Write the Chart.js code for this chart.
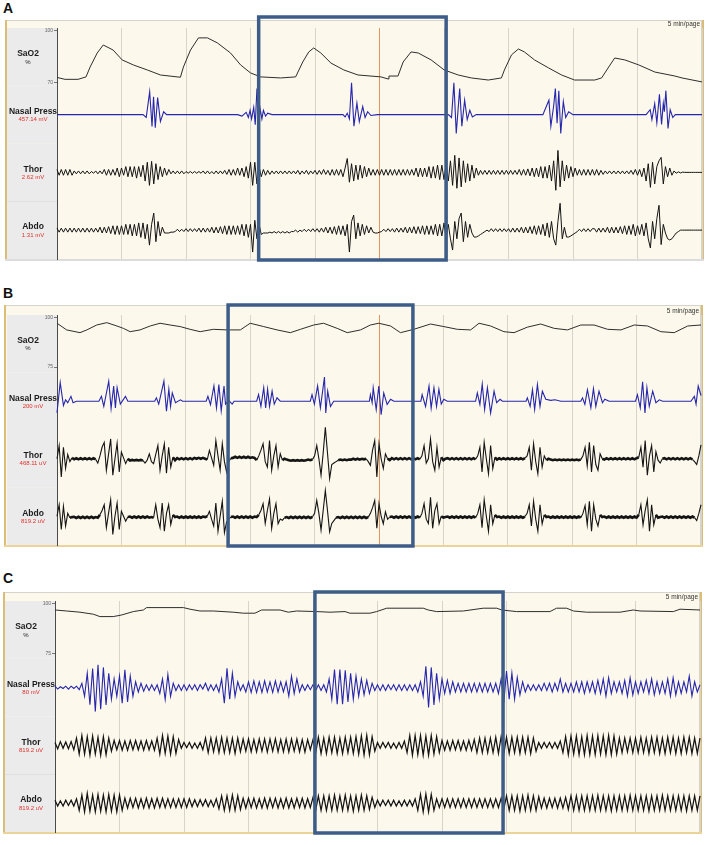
<!DOCTYPE html>
<html>
<head>
<meta charset="utf-8">
<title>SaO2, nasal pressure and effort traces</title>
<script src="https://cdn.jsdelivr.net/npm/chart.js@4/dist/chart.umd.min.js"></script>
<style>
    body { margin: 0; background: #fff; font-family: Arial, "Liberation Sans", sans-serif; }
    #figure { position: relative; width: 708px; height: 845px; overflow: hidden; }
    .letter { position: absolute; left: 3px; font-weight: bold; font-size: 14px; line-height: 16px; color: #111; }
    .panel { position: absolute; left: 0; width: 708px; }
</style>
</head>
<body>
<div id="figure">
    <div class="letter" style="top:0px">A</div>
    <div class="letter" style="top:285px">B</div>
    <div class="letter" style="top:570px">C</div>
    <div class="panel" id="panel-a"><canvas id="chart-a"></canvas></div>
    <div class="panel" id="panel-b"><canvas id="chart-b"></canvas></div>
    <div class="panel" id="panel-c"><canvas id="chart-c"></canvas></div>
</div>
<script>
// one page = 300 s, grid every 30 s
const PAGE_SECONDS = 300
const GRID_SECONDS = 30
const AB_STEP = 1      // seconds between samples, panels A and B
const C_STEP = 1.25    // seconds between samples, panel C
const PAGE_NOTE = "5 min/page"

const channelNames = ["SaO2", "Nasal Press", "Thor", "Abdo"]
const aUnits = ["%", "457.14 mV", "2.62 mV", "1.31 mV"]
const bUnits = ["%", "200 mV", "468.11 uV", "819.2 uV"]
const cUnits = ["%", "80 mV", "819.2 uV", "819.2 uV"]

const aSaO2Ticks = [70, 100]
const bSaO2Ticks = [75, 100]
const cSaO2Ticks = [75, 100]

// SaO2 [seconds, %]
const aSaO2 = [
    [0, 73.2], [3.7, 72.1], [9.8, 72.1], [13.5, 73.5], [15.4, 79.2], [18.7, 87.3], [21.5, 91.9], [26.1, 89],
    [30.3, 83.3], [35.5, 80.4], [42, 77.5], [48.1, 74.6], [57.4, 73.3], [58.8, 79.2], [62.1, 89], [65.8, 96],
    [70, 96], [74.6, 93.1], [80.7, 87.3], [85.4, 80.4], [90, 75.8], [94.7, 73.5], [104, 72.9], [111, 73.5],
    [114.3, 82.1], [117.1, 87.9], [119.4, 90.2], [122.7, 87.3], [127.4, 81.5], [133.4, 77.5], [140, 74.6],
    [150.7, 73.5], [154, 72.3], [154.4, 74], [158.6, 74], [161, 82.1], [164.7, 87.9], [168, 87.3], [174, 83.3],
    [180.1, 77.5], [186.6, 74.6], [192.7, 72.9], [200.6, 71.7], [206.7, 72.9], [208.1, 77.5], [211.4, 86.2],
    [214.6, 89.6], [217.4, 87.9], [222.1, 83.3], [228.6, 78.7], [234.7, 74.6], [240.7, 71.7], [250.1, 71.7],
    [253.3, 72.9], [256.6, 79.2], [259.4, 84.4], [264.1, 83.3], [270.6, 80.4], [278.1, 76.3], [287.4, 74],
    [290.7, 72.9], [300, 70.6],
]
const bSaO2 = [
    [0, 97.3], [4.5, 93.9], [10.7, 92.5], [13.9, 93.9], [18.5, 96.4], [23.2, 97.6], [27.9, 95.9], [30.9, 94.7],
    [34.1, 93], [38.7, 93.9], [43.4, 95.9], [48, 97.3], [52.7, 96.4], [57.4, 95.6], [62, 94.2], [66.7, 93],
    [72.8, 94.2], [79.2, 93.9], [85.4, 93.9], [90, 97.3], [96.3, 95.6], [102.5, 93.9], [108.7, 92.5],
    [113.4, 94.2], [119.6, 96.4], [124.2, 97.3], [130.5, 94.7], [135.2, 92.5], [141.4, 93.9], [146, 96.4],
    [149.9, 97.3], [155.4, 95.9], [160, 92.5], [166.2, 94.2], [174, 96.9], [180.2, 95.6], [186.5, 94.2],
    [192.7, 93.9], [196.6, 97.3], [202, 95.9], [208.2, 93], [212.9, 92.5], [219.1, 95.3], [225.3, 96.9],
    [231.6, 94.7], [237.8, 93.9], [244, 96.4], [250.2, 96.4], [256.5, 94.2], [262.7, 93.9], [268.9, 96.4],
    [275.1, 95.9], [281.3, 93], [287.5, 92.5], [293.8, 95.9], [300, 96.4],
]
const cSaO2 = [
    [0, 97], [5.4, 96.5], [11.6, 95.9], [17.8, 94.9], [20.9, 93.7], [27.1, 93.7], [31, 94.5], [36.4, 96.2],
    [41.1, 97], [42.6, 98.2], [59.7, 98.2], [62.8, 97.4], [67.4, 96.5], [73.6, 96.5], [82.9, 95.9], [87.6, 95.4],
    [93, 95.4], [96.1, 97], [104.7, 97], [108.5, 95.9], [112.4, 96.5], [121.7, 96.2], [127.9, 95.9],
    [134.9, 96.2], [137.2, 95.4], [146.5, 95.4], [149.6, 96.2], [154.3, 97.9], [171.3, 97.9], [173.6, 97],
    [177.5, 96.2], [189.9, 96.5], [199.2, 97.9], [205.4, 97.9], [207.8, 97], [214.7, 96.2], [230.2, 96.2],
    [233.3, 97.9], [238, 97.9], [241.1, 96.5], [247.3, 95.9], [262.8, 95.9], [269, 97], [272.1, 96.5],
    [287.6, 96.2], [290.7, 97.4], [300, 97],
]

// nasal pressure, flat between bursts [seconds, value]
const aNasal = [
    [0, 0], [40, 0], [41.5, -1], [43.1, 7.9], [44.2, -4.1], [44.9, 6.2], [45.7, -4.5], [46.8, 5.9], [48.1, -2.4],
    [49.6, 1], [51, 0],
    [84, 0], [86, -0.5], [88, 0.8], [89, -1], [89.8, 1.5], [90.5, -1.5], [91.5, 2.5], [92.2, -3.5], [93, 9],
    [93.8, -3.5], [94.5, 2], [95.3, -1.5], [96, 1.5], [97, -0.5], [98, 0.5], [100, 0],
    [133, 0], [134, -0.8], [135, 0.5], [136, -1.5], [137, 11], [138.1, -4], [139.5, 4], [140.6, -2.4],
    [142.2, 2.8], [143.3, -1], [144.5, 1], [146, -0.3], [149, 0],
    [182, 0], [183.5, -1], [184.6, 11], [185.7, -6.5], [187.3, 9], [188.3, -4], [189.6, 5], [190.8, -1.7],
    [192, 1.5], [193.2, -0.8], [195, 0],
    [226, 0], [228.8, 5], [229.7, -4], [231, 3], [231.8, 9], [232.6, -3], [233.4, 8.3], [234.3, -6.5],
    [235.5, 4.5], [236.6, -1], [238, 1], [240, 0],
    [274, 0], [275.9, 1.7], [276.7, -1.7], [278, 3.8], [279, -2.8], [280.2, 7], [281.2, -3.4], [282, 4],
    [282.5, 1], [283.2, 8.3], [284.2, -4.8], [285.2, 1.7], [286.4, -1], [287.6, 0], [300, 0],
]
const bNasal = [
    [0, -4], [1.5, 6.5], [3, -1.5], [4, 0.5], [5, -0.5], [6.5, 1.7], [7.5, -0.5], [9, 0],
    [19.5, 0], [20.7, 1.7], [21.8, -1.8], [24.1, 7], [25.2, -2.5], [26.4, 5.3], [27.2, -2.3], [28, 4.7],
    [29.5, -1], [31.9, 1.7], [33, 0],
    [45.5, 0], [46.3, 1.2], [47.4, -1], [49.8, 7], [51, -3.5], [52.1, 4.2], [52.9, -1.8], [53.7, 2.9],
    [55.2, -0.5], [57.5, 0.5], [58.5, 0],
    [69.5, 0], [70.3, 1.7], [71.5, -1.2], [73.1, 5.3], [74.3, -2.3], [75.4, 5.8], [76.5, -3.3], [77.8, 5.3],
    [78.5, -1], [80, 0.3], [81.6, -1], [82.5, 0],
    [93, 0], [93.9, 2.3], [95, -1.8], [96.3, 4.7], [97.2, -2.3], [98.1, 4.2], [99, -1.8], [100.2, 3.5],
    [101.2, -1], [102.5, 1.2], [104, 0],
    [118, 0], [118.8, 2.3], [119.9, -1], [121.4, 5.3], [122.7, -2.3], [124.6, 8.4], [125.2, -4.1],
    [126.1, 3.5], [127.4, -1.8], [128.9, 0],
    [145.5, 0], [146, 2.3], [146.8, -0.5], [147.3, 4.7], [148.7, -2.9], [149.9, 5.3], [151, -4.7],
    [152.2, 2.9], [153.8, -1.1], [155.4, 0.7], [156.9, 0],
    [169.5, 0], [170.1, 2.3], [171.7, -1.8], [173.3, 5.3], [174.3, -2.4], [175.6, 4.7], [176.8, -1.8],
    [177.9, 4.2], [179, -1], [180.2, 0.7], [181.8, 0],
    [195, 0], [195.8, 2.9], [197, -1.1], [198.1, 6], [199.2, -2.9], [200.5, 4.7], [202, -4.1], [203.6, 3.5],
    [204.8, -0.5], [206.4, 0.7], [207.5, 0],
    [218.5, 0], [219.1, 1.2], [220.4, -1.8], [221.5, 4], [222.5, -2.9], [223.8, 5.8], [225, -1.8],
    [226.1, 3.5], [227.7, 0.7], [230, 0.3], [232, 0.5], [234.7, 0],
    [244, 0], [244.8, 1.2], [245.9, -1.1], [247.1, 4], [248.7, -2.3], [249.9, 4.4], [251, -1.8], [252.5, 3.5],
    [254.1, -0.5], [255.2, 0.7], [257.2, 0],
    [269.5, 0], [270.4, 2.3], [271.7, -2.3], [272.8, 6.8], [273.9, -4.1], [274.8, 4.7], [275.9, -1.8],
    [277.5, 3.5], [279, -0.5], [280.6, 0.5], [282.1, 0],
    [295.3, 0], [296.9, 1.7], [297.7, -1], [298.7, 5.3], [300, 2],
]

// effort traces, panels A and B, one sample every AB_STEP seconds (0..300)
const aThor = [
    1, -1, 1, -1, 1, -1, 1, -1, 0.5, -0.5,
    0.5, -0.5, 0.5, -0.5, 0.5, -0.5, 0.3, -0.3, 0.5, -0.5,
    0.5, -0.5, 1, -1, 1, -1, 1, -1, 1.5, -1.5,
    1.5, -1, 2, -1.5, 2, -1.5, 2, -2, 2, -1.5,
    2.5, -3, 3.5, -4.5, 3.8, -4, 3, -2.5, 2, -1.5,
    1.5, -1, 1, -0.5, 0.5, -0.5, 0.5, -0.5, 0.5, -0.5,
    0.3, -0.3, 0.3, -0.3, 0.3, -0.3, 0.3, -0.3, 0.5, -0.5,
    0.5, -0.5, 0.3, -0.5, 0.5, -0.5, 0.5, -0.5, 0.7, -0.7,
    1, -1, 1, -1, 1.5, -1, 1.5, -1.5, 2, -2,
    3.5, -4.5, 3.5, -4, 2, -1.5, 1, -1, 0.7, -0.7,
    0.5, -0.5, 0.5, -0.5, 0.5, -0.5, 0.5, -0.5, 0.5, -0.5,
    0.5, -0.5, 0.7, -0.7, 0.5, -0.5, 0.7, -0.7, 0.5, -0.5,
    0.7, -0.7, 0.7, -0.7, 1, -0.7, 0.7, -1, 1, -1,
    1, -1, 1, -1.5, 1.5, 4.8, -3.4, 3, -3, 2.5,
    -2.5, 2.5, -2, 2, -1.5, 1.5, -1, 1, -1, 1,
    -1, 1, -1, 1, -1, 1, -1, 1, -1, 1,
    -1, 1, -1, 1, -1, 1, -1, 1.5, -1.5, 1.5,
    -1.5, 1.5, -1.5, 2, -2, 2, -2, 2.5, -2.5, 2.5,
    -2.5, 3, -3, 4, -4.5, 5.9, -5.5, 5, -5, 4,
    -3.5, 3, -3, 2.5, -2, 1.5, -1, 0.7, -0.7, 0.7,
    -0.7, 0.7, -0.7, 0.7, -0.7, 0.7, -0.7, 0.7, -0.7, 0.7,
    -0.7, 0.7, -0.7, 0.7, -0.7, 1, -1, 1, -1, 1.2,
    -1.2, 1.5, -1.5, 1.5, -1.5, 2, -2, 2, -2, 2.5,
    -3, 4, -6.2, 7.6, -5, 4, -3, 2.5, -2, 2,
    -1.5, 1.5, -1, 1, -1, 1, -1, 1, -1, 1,
    -1, 1, -1, 0.7, -0.7, 0.5, -0.5, 0.5, -0.5, 0.5,
    -0.5, 0.5, -0.5, 0.5, -0.5, 0.5, -0.5, 0.7, -0.7, 1,
    -1, 1, -1.5, 1.5, -3, 3, -5.2, 3.5, -4, 2,
    4, 5.2, -4, 2, -1.5, 1.5, -1, 0.5, -0.3, 0.2,
    -0.2, 0.1, 0, 0, 0, 0, 0, 0, 0, 0, 0,
]
const aAbdo = [
    0.7, -0.7, 0.7, -0.7, 0.7, -0.7, 0.7, -0.7, 0.7, -0.7,
    0.7, -0.7, 0.7, -0.7, 0.7, -0.7, 0.7, -0.7, 0.7, -0.7,
    1, -1, 1, -1, 1.2, -1.2, 1.5, -1.5, 1.5, -1.5,
    1.5, -1.5, 2, -1.5, 2, -2, 2, -2, 2.5, -2.5,
    2.5, -3, 2, -5.2, 2, 5.9, -4, 3, -2, 1,
    -1, -1, -1, -0.7, -0.7, -0.5, 0.3, -0.5, 0.3, -0.5,
    0.5, -0.5, 0.5, -0.5, 0.5, -0.5, 0.7, -0.7, 0.7, -0.7,
    0.7, -0.7, 1, -1, 1, -1, 1.2, -1.2, 1.5, -1.5,
    1.5, -1.5, 1.5, -1.5, 1.5, -1.5, 2, -2, 2, -2.5,
    2, -7.6, 3.4, -3, 2, -1.5, -1, -1, -1, -0.7,
    -1, -0.5, -1, -0.5, -1, -0.5, -1, -0.5, -1, -0.5,
    -0.5, 0, -0.7, 0, -0.5, 0.3, -0.5, 0.3, -0.5, 0.5,
    -0.5, 0.5, -0.7, 0.7, -0.7, 1, -1, 1, -1.2, 1.2,
    -1.5, 1.5, -1.5, 1.5, -2, 2, -7.6, 3, 5.2, -3,
    2.5, -2, 2, -1.5, 1.5, -1, 1, -0.7, -1, -1,
    -0.7, -0.5, 0.3, -0.5, 0.5, -0.5, 0.5, -0.7, 0.7, -0.7,
    0.7, -0.7, 1, -1, 1, -1, 1.2, -1.2, 1.2, -1.2,
    1.5, -1.5, 1.5, -1.5, 1.5, -1.5, 2, -2, 2, -2,
    2.5, -3, 2, -3, -6.9, 3, -3, 4, 5.9, -4,
    3, -2.5, 2, -1, -2.4, -2.4, -2, -1.5, -1, -0.5,
    0, -0.5, 0.5, -0.5, 0.5, -0.5, 0.5, -0.5, 0.5, -0.5,
    0.5, -0.7, 0.7, -0.7, 0.7, -0.7, 1, -1, 1, -1,
    1.2, -1.2, 1.5, -1.5, 1.5, -1.5, 2, -2, 2.5, -2.5,
    3, -3, -5.2, 3, 9.3, -3, 1, -2.4, -2.4, -2,
    -1.5, -1, -0.5, 0.3, -0.5, 0.5, -0.5, 0.5, -0.5, 0.5,
    0.5, -0.7, 0.7, -0.7, 0.7, -0.7, 1, -1, 1, -1,
    1, -1, 1.2, -1.2, 1.5, -1.5, 1.5, -1.5, 2, -2,
    1.5, -1.5, 2, -2, 2.5, -3, -6.2, 3, -3, 4,
    8.6, -5, 2, -1, -3, -3.4, -3, -2, -1, -0.5,
    0, 0, 0, 0, 0, 0, 0, 0, 0, 0, 0,
]
const bThor = [
    0, 4.5, -6.3, 4, -3.3, 1.5, -1, 0.3, -0.2, 0.2,
    -0.2, 0.2, -0.2, 0.2, -0.2, 0.2, -0.2, 0.2, -0.2, -1.5,
    1, 4, 5.7, -4, 1.5, 6.9, -5.7, 0, 5.4, -4.6,
    2.3, 0.3, -1.7, 0, -0.6, -0.4, -0.6, -0.4, -0.6, -0.4,
    -0.6, -1.5, -0.5, 1.7, -1, -1.7, 1.5, 4.6, -4, 1,
    5.2, -5, 4, -2.9, 0.5, -0.5, 0.2, -0.2, 0.2, -0.2,
    0.2, -0.2, 0.2, -0.2, 0.3, 0, 0.3, 0, 0.3, 0,
    -0.3, 2.9, 0.3, -2.3, 6.3, 1, -4, 5.2, -1, -4.6,
    -1, 0.2, 0.3, 0.7, 0.3, 0.7, 0.3, 0.7, 0.3, 0.7,
    0.3, 0.5, 0.3, -0.5, 1, 3, 5.2, -1, -2.9, 6.3,
    -4, 1, 4.6, -2.9, 1.7, -0.5, 0, -0.3, -0.5, -0.7,
    -0.5, -0.7, -0.5, -0.7, -0.5, -0.7, -0.5, -0.3, -0.5, -0.3,
    1, 4.6, 0, -5.7, 2, 10.9, 2, -6.9, -2, -1.5,
    -1, -0.5, -0.3, -0.5, -0.3, -0.5, -0.3, -0.3, 0, -0.3,
    0, -0.3, 0, -0.2, 0, -1, -2.3, 3, 6.3, -6.3,
    5.2, 0, -3.4, 1.7, 0, -0.5, 0.2, -0.2, 0.2, -0.2,
    0.2, -0.2, 0.2, -0.2, 0.2, -0.2, 0.2, -0.2, 0.2, -0.2,
    1, 4.6, -1.5, 0, 6.9, -1, -4, 4, -2.9, 0.5,
    -0.5, 0, 0.2, -0.2, 0.2, -0.2, 0.2, -0.2, 0.2, -0.2,
    0.2, -0.2, 0.2, -0.2, 0.2, -0.2, 1, 4, -4.6, 5.7,
    0, -5.2, 4.6, -3.4, 0.5, -0.3, 0.2, -0.2, 0.2, -0.2,
    0.2, -0.2, 0.2, -0.2, 0.2, -0.2, 0.2, -0.2, 0.2, 1,
    4, -4, 5.2, -1, -5.2, 4, -2.9, 1, -0.5, 0,
    -0.3, -0.5, -0.3, -0.5, -0.3, -0.5, -0.3, -0.5, -0.3, -0.5,
    -0.3, -0.5, -0.3, -0.5, -0.3, 1, 4, -2.5, 5.7, -4.6,
    4.6, -2, -4, 1.7, 0, -0.3, 0.2, -0.2, 0.2, -0.2,
    0.2, -0.2, 0.2, -0.2, 0.2, -0.2, 0.2, -0.2, 0.2, -0.2,
    0.2, 0.5, 4, -2.9, 6.3, -5.7, 1, 4.6, -4.6, 2.5,
    -0.5, -1.5, 0, 0.2, -0.2, 0.2, -0.2, 0.2, -0.2, 0.2,
    -0.2, 0.2, -0.2, 0.2, -0.2, 0.2, -0.2, -1, -2, 1, 4.8,
]
const bAbdo = [
    0, 4, -4.6, 3.4, -3.4, 1, -0.5, -0.3, -0.2, -0.6,
    -0.2, -0.6, -0.2, -0.6, -0.2, -0.6, -0.2, -0.6, -0.3, -0.5,
    0.5, 2, 4, -4, 1, 5.7, -6.3, 0, 4.6, -4.6,
    1.7, 0, -1.7, -0.3, -0.1, -0.5, -0.1, -0.5, -0.1, -0.5,
    -0.1, -0.5, -0.1, -0.5, -0.3, -0.5, 4, -1, -4, 4.6,
    -5.2, 1, 4, -2.9, 0.5, -0.3, -0.1, -0.5, -0.1, -0.5,
    -0.1, -0.5, -0.1, -0.5, -0.1, -0.5, -0.1, -0.5, -0.1, -0.3,
    0, 1.7, -1, -3.4, 4.6, -5.2, 0, 5.2, -5.7, -2,
    -1, -0.3, -0.1, -0.5, -0.1, -0.5, -0.1, -0.5, -0.1, -0.5,
    -0.1, -0.5, -0.1, -0.3, 0.5, 2, 4.4, -2.5, 2, 6,
    -4.2, 1, 4.4, -2.6, -1, -1.4, -0.5, -0.3, -0.6, -0.2,
    -0.6, -0.2, -0.6, -0.2, -0.6, -0.2, -0.6, -0.2, -0.6, -0.2,
    1, 5.5, 1, -4.8, 2, 9, 2, -5.4, -2.5, -1.5,
    -0.5, -0.3, -0.6, -0.2, -0.6, -0.2, -0.6, -0.2, -0.6, -0.2,
    -0.6, -0.2, -0.6, -0.2, -0.6, -0.3, 1, 3, 5.5, -4.2,
    4.4, 0, -2.6, 1.5, -1, -0.3, -0.1, -0.5, -0.1, -0.5,
    -0.1, -0.5, -0.1, -0.5, -0.1, -0.5, -0.1, -0.5, -0.1, -0.5,
    1, 4.4, -1, -2.5, 6.6, -4.2, 2, 4.4, -2.6, 0,
    -0.5, -0.3, -0.1, -0.5, -0.1, -0.5, -0.1, -0.5, -0.1, -0.5,
    -0.1, -0.5, -0.1, -0.5, -0.1, -0.5, 1, 4, -4, 5.7,
    0, -5.2, 4, -2.6, 0.5, -0.3, -0.1, -0.5, -0.1, -0.5,
    -0.1, -0.5, -0.1, -0.5, -0.1, -0.5, -0.1, -0.5, -0.1, 1,
    4, -3.4, 5.2, -1, -5.2, 4, -2.6, 0.5, -0.3, -0.1,
    -0.5, -0.1, -0.5, -0.1, -0.5, -0.1, -0.5, -0.1, -0.5, -0.1,
    -0.5, -0.1, -0.5, -0.1, -0.5, 1, 3.7, -3, 5.2, -5.2,
    4, -1, -3.4, 0.5, -0.3, -0.1, -0.5, -0.1, -0.5, -0.1,
    -0.5, -0.1, -0.5, -0.1, -0.5, -0.1, -0.5, -0.1, -0.5, -0.1,
    -0.5, 0.5, 4, -3, 2, 5.7, -5.2, 4, -3, 0.5,
    -0.5, -0.3, -0.1, -0.5, -0.1, -0.5, -0.1, -0.5, -0.1, -0.5,
    -0.1, -0.5, -0.1, -0.5, -0.1, -0.5, -0.1, -0.5, -1.5, 1, 4,
]

// panel C traces, one sample every C_STEP seconds (0..300)
const cNasal = [
    0.5, -0.5, 0.3, -0.3, 0.5, -0.5, 0.5, -0.3, 0.5, -0.7,
    1.5, -3, 5, -5.9, 6.6, -8.3, 7.9, -7.5, 7, -6,
    5, -4, 3, -3, 4, -5.4, 6.2, -5, 4, -3,
    2, -1.5, 1.5, -1.2, 1, -1, 1, -1, 1, -2,
    3, -4.1, 4.5, -3, 1.5, -1, 1, -1, 1, -1,
    1, -0.7, 1, -1, 1, -0.5, 1.5, -1, 1, -1,
    1, -1.5, 3, -5.4, 6.7, -4, 5, -3, 2, -1,
    1, -1.5, 2, -1.7, 2.3, -1.7, 2, -1.7, 2.3, -1.5,
    2, -1.7, 2.3, -1.5, 2, -1.5, 2, -2.9, 4, -2,
    3, -1.5, 1, -1, 1, -0.7, 1, -1, 1, -1,
    1, -1.5, 3, -4, 6.3, -5.7, 6.3, -5.7, 6, -5,
    5, -4, 4, -3, 3, -2.5, 2.5, -2, 1.5, -1,
    1, -1, 1, -1, 1, -0.7, 1, -1, 1, -1,
    1, -1, 1, -1, 1, -1.5, 2, -3, 7.4, -6.9,
    7, -6, 5, -4, 3, -2, 2.5, -2, 2, -1.5,
    1.5, -1.5, 1.5, -1.5, 1.5, -1.5, 1.5, -1.5, 1.5, -1.5,
    1.5, -1.5, 1.5, -1.5, 1.5, -2, 3, -5.2, 5.7, -4,
    5, -4, 3.5, -2.5, 2, -1.5, 1, -1, 1, -1,
    1, -1, 1.5, -1, 1.5, -1.5, 1.5, -1, 3, -1.5,
    1.5, -1.5, 1.5, -1.5, 2, -1.5, 2, -2, 2, -1.5,
    2, -2, 2.5, -2, 3, -2.9, 3.4, -2, 2, -1.5,
    2, -2, 2.5, -2.9, 3.4, -2.5, 2, -2, 2, -1.5,
    2.5, -2, 3, -2.5, 2, -2, 2, -2, 3, -2.9,
    3.4, -2.5, 2, -2, 2, -1.5, 4, -2.9, 2, -1.5,
    1,
]
const cThor = [
    1, -1.2, 1.3, -1, 1.2, -1.2, 1.3, -1.5, 2.5, -3,
    3.4, -3, 3, -3.4, 3.2, -3, 2.8, -3.4, 3, -3.2,
    2.5, -2, 1.7, -1.5, 1.7, -1.7, 1.5, -1.7, 1.7, -1.5,
    1.7, -1.5, 1.5, -1.7, 1.7, -1.5, 1.5, -1.7, 2.5, -3,
    3.4, -2.8, 3.2, -3, 3, -2.8, 2, -1, 1, -0.8,
    1, -1, 0.8, -1, 1, -1.5, 2.5, -2.5, 2.5, -2.2,
    2.5, -2.5, 2.8, -2.5, 2.5, -2.5, 2.5, -2.8, 2.5, -2.2,
    2.2, -2, 2.2, -2.2, 2, -2.2, 2.2, -2, 2.2, -2.3,
    2.2, -2, 2.3, -2.2, 2, -2.2, 2.2, -2.3, 2.2, -2,
    2.2, -2.2, 2, -2.3, 2, -1.5, 2, -2.5, 2.8, -2.8,
    2.5, -2.8, 2.8, -2.5, 2.8, -2.8, 2.5, -2.8, 2.8, -2.5,
    2.8, -2.8, 3, -3, 3.3, -3.3, 3.5, -3.3, 3, -2,
    1, -1, 1, -0.8, 1, -1, 0.8, -1, 1, -1,
    1.5, -2.5, 3.4, -3.4, 3.4, -3.2, 3.4, -3.4, 3.2, -3.4,
    3.4, -3, 3, -2.5, 1.7, -1.7, 1.5, -1.7, 1.7, -1.5,
    1.7, -1.7, 1.5, -1.7, 1.7, -1.7, 2, -2.5, 2.5, -2.5,
    2.5, -2.5, 2.5, -2.5, 2.8, -2.8, 3, -2.8, 2.8, -2.8,
    2.8, -2.5, 2.8, -2.8, 2.8, -2.5, 2.8, -2.8, 2.5, -2,
    1, -1, 1, -0.8, 1, -1, 1, -1, 1.5, -2.5,
    3, -3.2, 3.2, -3, 3.2, -3.2, 3, -3.2, 3.4, -3.2,
    3.2, -3.2, 3.4, -3, 3.2, -3.2, 3.4, -3.2, 3.2, -3,
    2.5, -2.5, 2.5, -2.2, 2.5, -2.5, 2.5, -2.5, 2.8, -2.5,
    2.5, -2.8, 2.8, -2.5, 2.8, -2.8, 2.5, -2.8, 2.8, -2.5,
    2.8, -2.8, 2.5, -2.8, 2.8, -2.5, 2.8, -2.8, 2.5, -2.8,
    2.5,
]
const cAbdo = [
    1, -1, 0.8, -1, 1, -0.8, 1, -1, 1.5, -2.5,
    2.8, -3, 3.4, -2.8, 2.8, -3, 3, -2.8, 2.8, -3,
    3, -2.8, 2.8, -3, 2.8, -2.5, 1.7, -1.7, 1.7, -1.5,
    1.7, -1.7, 1.5, -1.7, 1.7, -1.7, 1.5, -1.7, 1.7, -1.5,
    1.7, -1.5, 1.5, -1.5, 1.5, -1.5, 1.5, -1.5, 1.5, -1.5,
    1.5, -1.2, 1.2, -1.2, 1.2, -1, 1.2, -1.2, 1, -1.2,
    1.5, -2, 2.5, -2.5, 2.5, -2.5, 2.8, -2.5, 2.5, -2.2,
    1.7, -1.7, 1.7, -1.5, 1.7, -1.7, 1.5, -1.7, 1.7, -1.7,
    1.7, -1.5, 1.7, -1.7, 1.5, -1.7, 1.7, -1.7, 1.5, -1.7,
    1.7, -1.5, 1.7, -1.7, 1.5, -1.5, 2, -2.5, 2.5, -2.5,
    2.5, -2.5, 2.5, -2.5, 2.8, -2.5, 2.5, -2.5, 2.8, -2.5,
    2.5, -2.8, 2.5, -2.5, 2.8, -2.5, 2.5, -2.2, 2, -1.5,
    1, -1, 1, -0.8, 1, -1, 1, -1, 0.8, -1,
    1, -1, 1, -1, 1.5, -2.5, 3, -3, 3.2, -3,
    3, -2.5, 1.5, -1.5, 1.5, -1.5, 1.5, -1.5, 1.5, -1.5,
    1.5, -1.5, 1.5, -1.5, 1.5, -1.5, 1.5, -1.5, 1.5, -1.5,
    1.5, -1.5, 1.5, -1.5, 1.5, -1.5, 1.7, -2, 2.5, -2.5,
    2.5, -2.5, 2.5, -2.8, 2.5, -2.5, 2.8, -2.5, 2.5, -2.5,
    2.2, -1.7, 1.7, -1.7, 1.7, -1.5, 1.7, -1.7, 1.7, -1.7,
    2, -2.2, 2.5, -2.5, 2.5, -2.5, 2.5, -2.5, 2.5, -2.5,
    2.5, -2.5, 2.7, -2.5, 2.5, -2.5, 2.5, -2.7, 2.5, -2.5,
    2.5, -2.5, 2.5, -2.5, 2.7, -2.5, 2.5, -2.5, 2.5, -2.5,
    2.5, -2.7, 2.5, -2.5, 2.5, -2.5, 2.7, -2.5, 2.5, -2.5,
    2.5, -2.5, 2.5, -2.5, 2.5, -2.7, 2.5, -2.5, 2.5, -2.5,
    2.5,
]

// axis ids from top band to bottom band
const CHANNEL_AXES = ["sao2", "nasal", "thor", "abdo"]

const panels = [
    {
        key: "a", canvasTop: 12, height: 252, step: AB_STEP,
        padding: { left: 7, right: 6, top: 16, bottom: 5 },
        frame: { left: 5, top: 8, bottom: 249 }, bottomEdge: "#dcdcdc",
        sao2: aSaO2, sao2Range: [68.4, 101.7], sao2Ticks: aSaO2Ticks,
        nasal: aNasal, thor: aThor, abdo: aAbdo, units: aUnits,
        box: [93.8, 181], boxY: [5, 248], cursor: 150, thickFlat: false, effortWidth: 1,
    },
    {
        key: "b", canvasTop: 298, height: 252, step: AB_STEP,
        padding: { left: 7, right: 7, top: 17, bottom: 5 },
        frame: { left: 4, top: 7, bottom: 249 }, bottomEdge: "#ecd39a",
        sao2: bSaO2, sao2Range: [72.2, 101.5], sao2Ticks: bSaO2Ticks,
        nasal: bNasal, thor: bThor, abdo: bAbdo, units: bUnits,
        box: [79.7, 165.8], boxY: [7, 248], cursor: 150, thickFlat: true, effortWidth: 1.1,
    },
    {
        key: "c", canvasTop: 585, height: 252, step: C_STEP,
        padding: { left: 5, right: 8, top: 16, bottom: 5 },
        frame: { left: 3, top: 7, bottom: 249 }, bottomEdge: "#ecd39a",
        sao2: cSaO2, sao2Range: [72.6, 101.5], sao2Ticks: cSaO2Ticks,
        nasal: cNasal, thor: cThor, abdo: cAbdo, units: cUnits,
        box: [120.9, 208.4], boxY: [7, 248], cursor: null, thickFlat: false, effortWidth: 1.25,
    },
]

function pairPoints(pairs) {
    return pairs.map(([x, y]) => ({ x, y }))
}

function sampledPoints(values, step) {
    return values.map((y, i) => ({ x: i * step, y }))
}

function toPoints(series, step) {
    return Array.isArray(series[0]) ? pairPoints(series) : sampledPoints(series, step)
}

function traceDataset(label, points, axis, color, width, thickFlat) {
    const dataset = {
        label,
        data: points,
        yAxisID: axis,
        borderColor: color,
        borderWidth: width,
        pointRadius: 0,
        tension: 0,
        clip: false,
    }
    if (thickFlat) {
        // the quiet stretches of these belts are noisy, they print as a heavy line
        dataset.segment = {
            borderWidth: ctx =>
                Math.abs(ctx.p0.parsed.y) < 0.8 && Math.abs(ctx.p1.parsed.y) < 0.8 ? 2.6 : 1.1,
        }
    }
    return dataset
}

function bandAxis(weight) {
    return {
        type: "linear",
        position: "left",
        stack: "trace",
        stackWeight: 1,
        weight,
        min: -10,
        max: 10,
        ticks: { display: false },
        grid: { display: false },
        border: { display: true, color: "#4a4a4a", width: 1 },
        afterFit: scale => { scale.width = 50 },
    }
}

function isCursor(panel, value) {
    return panel.cursor !== null && Math.abs(value - panel.cursor) < 0.01
}

function panelPlugins(panel) {
    const frame = {
        id: "frame",
        beforeDraw(chart) {
            const { ctx, chartArea } = chart
            const { left, top, bottom } = panel.frame
            const width = chartArea.right - left
            ctx.save()
            ctx.fillStyle = "#fcf8eb"
            ctx.fillRect(left, top, width, bottom - top)
            ctx.strokeStyle = "#d6d3ca"
            ctx.lineWidth = 1
            ctx.strokeRect(left + 0.5, top + 0.5, width - 1, bottom - top - 1)
            CHANNEL_AXES.forEach(id => {
                const s = chart.scales[id]
                ctx.fillStyle = "#ebebeb"
                ctx.fillRect(s.left, s.top, s.right - s.left, s.bottom - s.top)
                ctx.strokeStyle = "#bcbcbc"
                ctx.beginPath()
                ctx.moveTo(s.left, Math.round(s.bottom) + 0.5)
                ctx.lineTo(s.right, Math.round(s.bottom) + 0.5)
                ctx.stroke()
            })
            ctx.fillStyle = "#dcbd78"
            ctx.fillRect(left, top, 2, bottom - top)
            ctx.fillRect(chartArea.right, top, 2, bottom - top)
            ctx.fillStyle = panel.bottomEdge
            ctx.fillRect(left, bottom - 2, width + 2, 2)
            ctx.restore()
        },
        afterDraw(chart) {
            const { ctx, chartArea, scales } = chart
            ctx.save()
            ctx.textAlign = "center"
            ctx.textBaseline = "middle"
            CHANNEL_AXES.forEach((id, i) => {
                const s = scales[id]
                const cx = (s.left + s.right) / 2 + (i === 0 ? -4 : 1)
                const cy = (s.top + s.bottom) / 2
                ctx.font = "bold 8.5px Arial, 'Liberation Sans', sans-serif"
                ctx.fillStyle = "#1c1c1c"
                ctx.fillText(channelNames[i], cx, cy - 3)
                ctx.font = "6px Arial, 'Liberation Sans', sans-serif"
                ctx.fillStyle = i === 0 ? "#1c1c1c" : "#e0302c"
                ctx.fillText(panel.units[i], cx, cy + 5)
            })
            ctx.font = "6.5px Arial, 'Liberation Sans', sans-serif"
            ctx.textAlign = "right"
            ctx.fillStyle = "#333"
            ctx.fillText(PAGE_NOTE, chartArea.right - 2, chartArea.top - 4)

            const x0 = scales.x.getPixelForValue(panel.box[0])
            const x1 = scales.x.getPixelForValue(panel.box[1])
            ctx.strokeStyle = "#3d5d88"
            ctx.lineWidth = 3.5
            ctx.strokeRect(x0, panel.boxY[0], x1 - x0, panel.boxY[1] - panel.boxY[0])
            ctx.restore()
        },
    }
    return [frame]
}

function buildPanel(panel) {
    const holder = document.getElementById("panel-" + panel.key)
    holder.style.top = panel.canvasTop + "px"
    holder.style.height = panel.height + "px"
    const canvas = document.getElementById("chart-" + panel.key)

    const blue = "#2626ae"
    const black = "#141414"

    const _ = new Chart(canvas, {
        type: "line",
        data: {
            datasets: [
                traceDataset("SaO2", toPoints(panel.sao2), "sao2", "#2e2e2e", 1, false),
                traceDataset("Nasal Press", toPoints(panel.nasal, panel.step), "nasal", blue, 1.1, false),
                traceDataset("Thor", toPoints(panel.thor, panel.step), "thor", black, panel.effortWidth, panel.thickFlat),
                traceDataset("Abdo", toPoints(panel.abdo, panel.step), "abdo", black, panel.effortWidth, panel.thickFlat),
            ],
        },
        options: {
            responsive: true,
            maintainAspectRatio: false,
            animation: false,
            events: [],
            layout: { padding: panel.padding },
            plugins: {
                legend: { display: false },
                tooltip: { enabled: false },
            },
            scales: {
                x: {
                    type: "linear",
                    min: 0,
                    max: PAGE_SECONDS,
                    ticks: { display: false, stepSize: GRID_SECONDS },
                    grid: {
                        drawTicks: false,
                        lineWidth: 1,
                        color: ctx =>
                            ctx.tick && isCursor(panel, ctx.tick.value) ? "#e3935c" : "#d8d4c9",
                    },
                    border: { display: false },
                },
                abdo: bandAxis(1),
                thor: bandAxis(2),
                nasal: bandAxis(3),
                sao2: {
                    type: "linear",
                    position: "left",
                    stack: "trace",
                    stackWeight: 1,
                    weight: 4,
                    min: panel.sao2Range[0],
                    max: panel.sao2Range[1],
                    afterBuildTicks: scale => {
                        scale.ticks = panel.sao2Ticks.map(value => ({ value }))
                    },
                    ticks: {
                        color: "#666",
                        padding: 1,
                        font: { size: 5, family: "Arial, 'Liberation Sans', sans-serif" },
                    },
                    grid: { drawOnChartArea: false, drawTicks: true, tickLength: 3, color: "#777" },
                    border: { display: true, color: "#4a4a4a", width: 1 },
                    afterFit: scale => { scale.width = 50 },
                },
            },
        },
        plugins: panelPlugins(panel),
    })
}

panels.forEach(buildPanel)
</script>
</body>
</html>
